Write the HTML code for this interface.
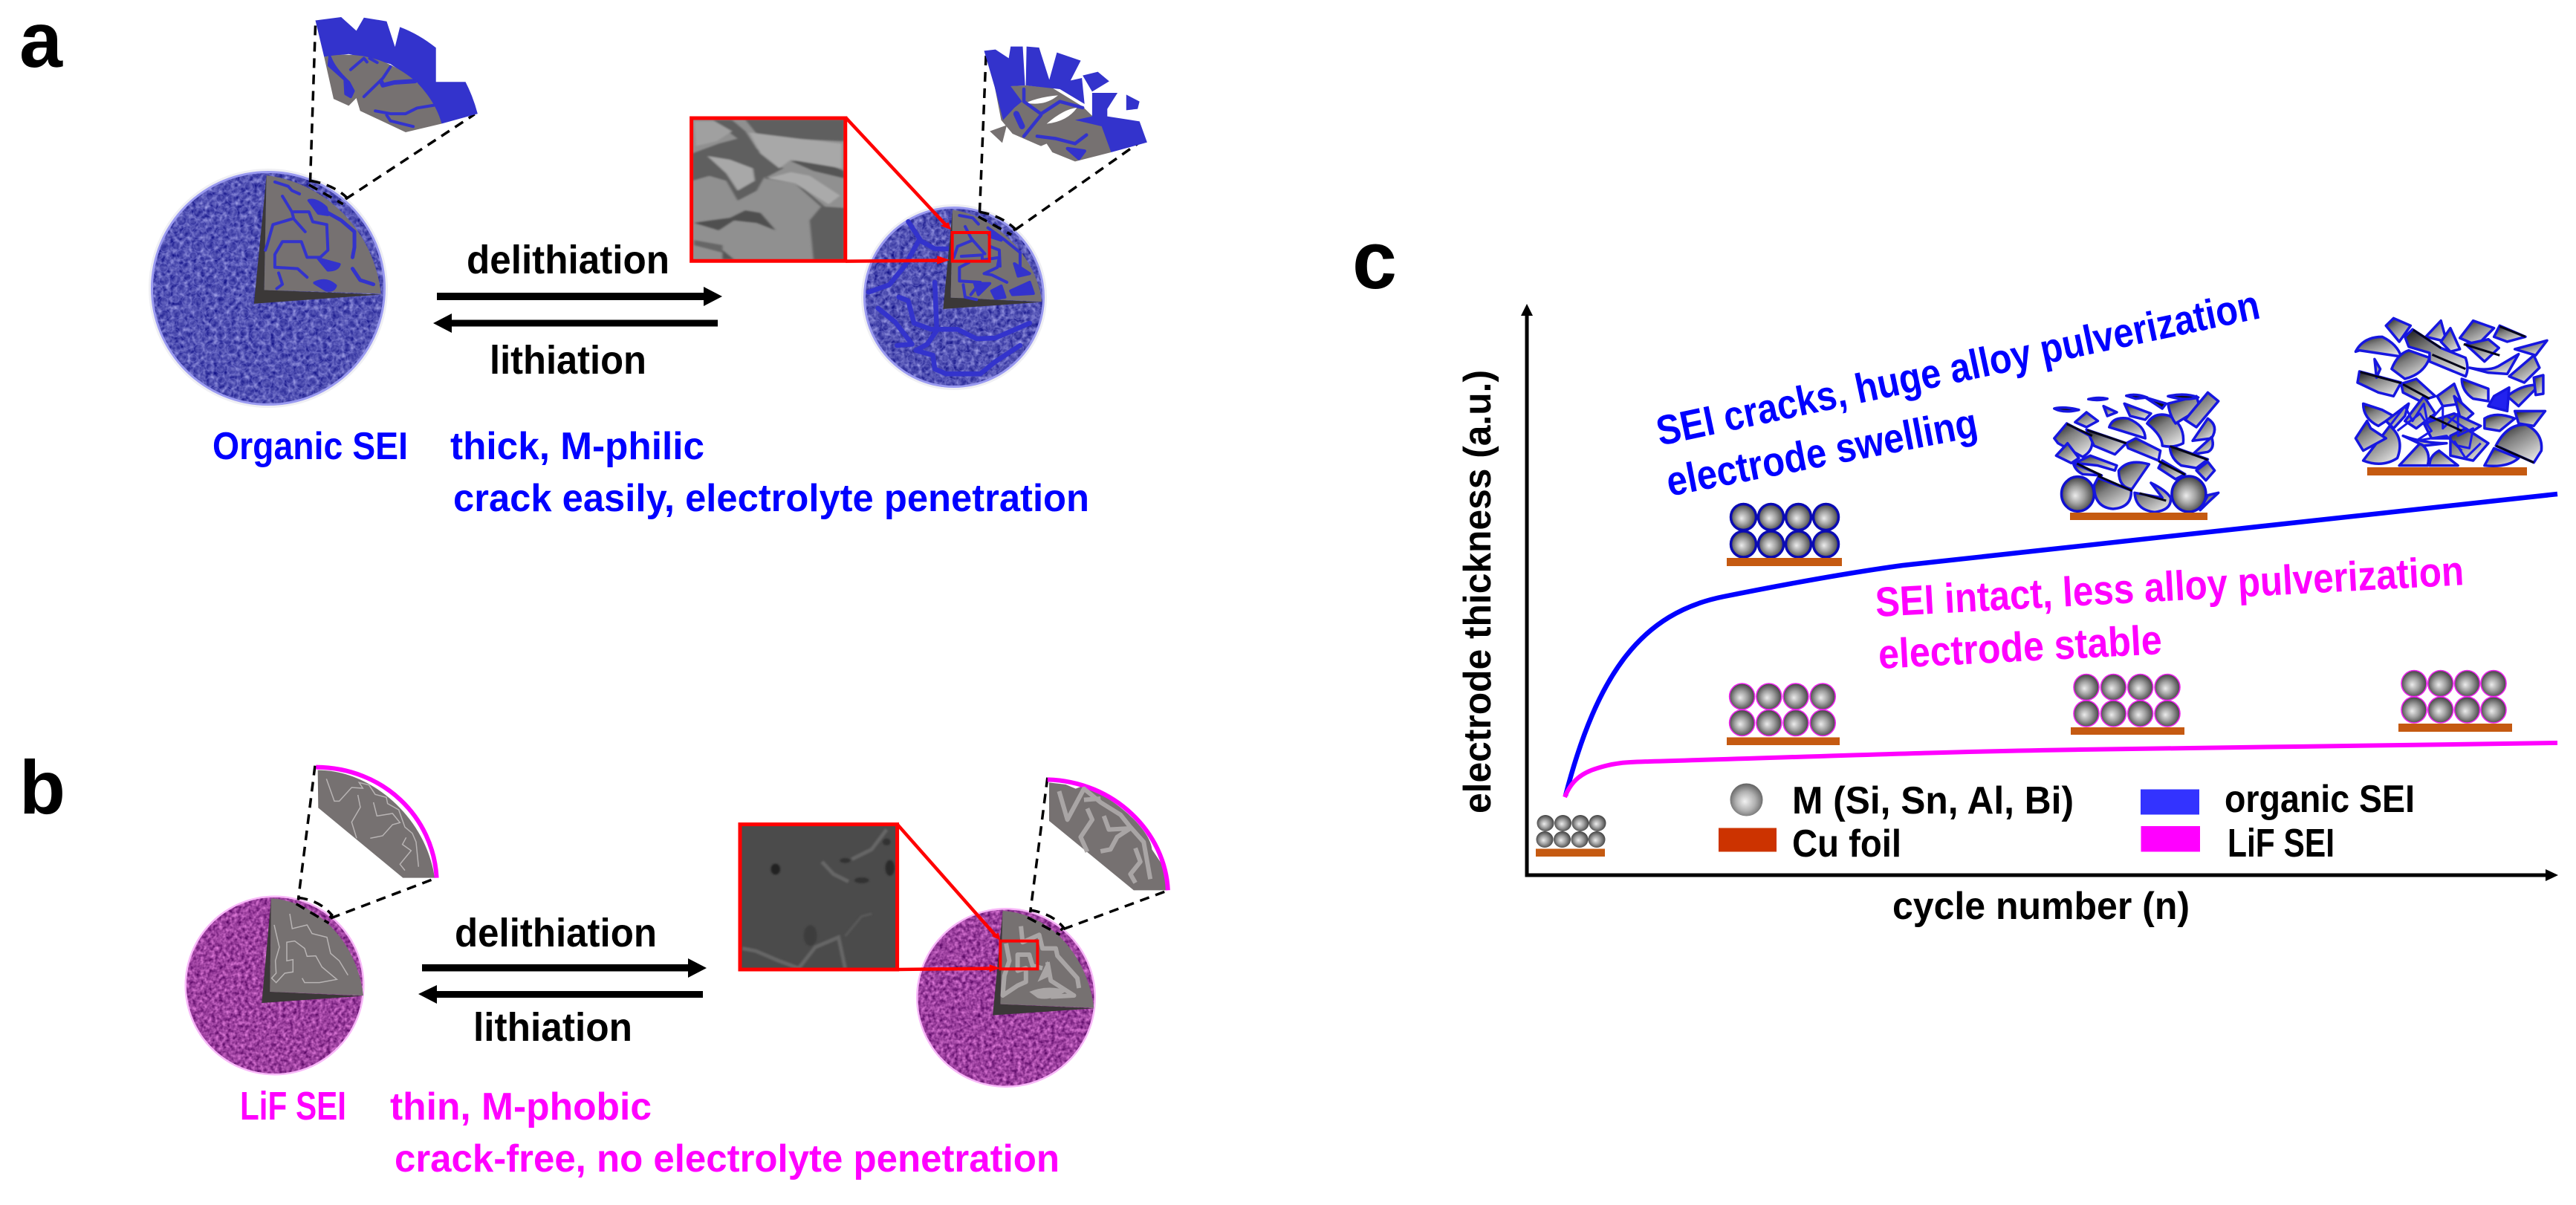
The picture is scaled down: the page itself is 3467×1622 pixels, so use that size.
<!DOCTYPE html>
<html lang="en">
<head>
<meta charset="utf-8">
<title>SEI diagram</title>
<style>
html,body{margin:0;padding:0;background:#fff}
svg{display:block}
text{font-family:"Liberation Sans",sans-serif;font-weight:700}
.ns *{vector-effect:non-scaling-stroke}
.k{fill:#000}.b{fill:#0000ff}.m{fill:#ff00ff}
.crk{fill:none;stroke:#3333cc;stroke-linejoin:round;stroke-linecap:round}
.fr path{fill:url(#frag);stroke:#1616e0;stroke-width:3.5;stroke-linejoin:round}
.fr ellipse{fill:url(#sph);stroke:#1010d0;stroke-width:3.5}
.fr path.sh{fill:none;stroke:#05051a;stroke-width:3}
.fr path.bl{fill:none;stroke:#1a1ae8;stroke-width:3}
.dash{fill:none;stroke:#000;stroke-width:3.5;stroke-dasharray:13 9}
</style>
</head>
<body>
<svg xmlns="http://www.w3.org/2000/svg" width="3467" height="1622" viewBox="0 0 3467 1622">
<defs>
<filter id="tb" x="0" y="0" width="1" height="1" color-interpolation-filters="sRGB">
<feTurbulence type="fractalNoise" baseFrequency="0.17" numOctaves="2" seed="4"/>
<feColorMatrix type="matrix" values=".75 0 0 0 -.04  .75 0 0 0 -.04  .5 0 0 0 .46  0 0 0 0 1"/>
<feComposite in2="SourceAlpha" operator="in"/>
</filter>
<filter id="tp" x="0" y="0" width="1" height="1" color-interpolation-filters="sRGB">
<feTurbulence type="fractalNoise" baseFrequency="0.2" numOctaves="2" seed="9"/>
<feColorMatrix type="matrix" values=".75 0 0 0 .24  .65 0 0 0 -.07  .65 0 0 0 .3  0 0 0 0 1"/>
<feComposite in2="SourceAlpha" operator="in"/>
</filter>
<filter id="blur"><feGaussianBlur stdDeviation="3"/></filter>
<pattern id="cells" width="46" height="46" patternUnits="userSpaceOnUse">
<g fill="#34349c" fill-opacity=".35" stroke="#8282e0" stroke-opacity=".35" stroke-width="1">
<circle cx="7" cy="8" r="6"/><circle cx="22" cy="5" r="5"/><circle cx="37" cy="10" r="6.5"/>
<circle cx="14" cy="21" r="6.5"/><circle cx="30" cy="22" r="5"/><circle cx="42" cy="27" r="4"/>
<circle cx="6" cy="34" r="5"/><circle cx="21" cy="37" r="6"/><circle cx="36" cy="38" r="6"/>
</g>
</pattern>
<radialGradient id="sph" cx=".5" cy=".52" r=".6" fx=".42" fy=".55">
<stop offset="0" stop-color="#ececec"/><stop offset=".42" stop-color="#a0a0a0"/><stop offset=".85" stop-color="#454545"/><stop offset="1" stop-color="#333"/>
</radialGradient>
<radialGradient id="sphL" cx=".5" cy=".55" r=".6" fx=".45" fy=".55">
<stop offset="0" stop-color="#f2f2f2"/><stop offset=".5" stop-color="#b0b0b0"/><stop offset="1" stop-color="#505050"/>
</radialGradient>
<linearGradient id="frag" x1="0" y1="0" x2=".7" y2="1">
<stop offset="0" stop-color="#141414"/><stop offset=".42" stop-color="#7e7e7e"/><stop offset="1" stop-color="#e0e0e0"/>
</linearGradient>
<ellipse id="s" rx="17" ry="17.5" fill="url(#sph)"/>
<ellipse id="t" rx="11.5" ry="11" fill="url(#sph)"/>
<clipPath id="semA"><rect x="160" y="393" width="402" height="566"/></clipPath>
<clipPath id="semB"><rect x="103" y="269" width="474" height="586"/></clipPath>
</defs>
<rect width="3467" height="1622" fill="#fff"/>

<!-- panel letters -->
<text class="k" x="26" y="90" font-size="106" textLength="58" lengthAdjust="spacingAndGlyphs">a</text>
<text class="k" x="26" y="1095" font-size="102" textLength="62" lengthAdjust="spacingAndGlyphs">b</text>
<text class="k" x="1820" y="388" font-size="110" textLength="60" lengthAdjust="spacingAndGlyphs">c</text>

<!-- panel a circle 1 -->
<circle cx="361" cy="388" r="161" fill="#efeff3"/>
<circle cx="361" cy="388" r="158" fill="#9a9af0"/>
<circle cx="361" cy="388" r="155" fill="#5050b8" filter="url(#tb)"/>
<circle cx="361" cy="388" r="155" fill="url(#cells)"/>

<g class="ns" transform="scale(.5102,.3827)">
<path d="M703 617 L670 1068 L1005 1036 L697 1020Z" fill="#3b3838"/>
<path d="M703 617 C850 640 985 800 1005 1033 L697 1020Z" fill="#767171"/>
<g class="crk" stroke-width="4">
<path d="M725 640 L760 655 L770 670 L790 682"/>
<path d="M745 690 L770 745 L775 770 L805 815"/>
<path d="M775 745 L815 745 L825 780 L862 790 L865 880 L845 905 L810 905 L795 850 L745 850 L725 895 L725 940 L785 945 L810 975"/>
<path d="M770 770 L720 790 L705 860 L700 880"/>
<path d="M860 745 L900 775 L935 815 L935 870 L930 905" stroke-width="5"/>
<path d="M930 945 L950 985 L985 1000" stroke-width="5"/>
<path d="M735 960 L745 1000 L730 1015"/>
<path d="M815 705 Q835 700 860 730 L865 755 L840 750Z" fill="#3333cc"/>
<path d="M840 910 L895 930 Q890 950 865 950Z" fill="#3333cc"/>
<path d="M830 995 Q860 975 885 1005 Q880 1025 860 1020Z" fill="#3333cc"/>
</g>
<path class="dash" d="M832 90 L818 650 M820 636 Q880 650 915 695 L905 706 M815 650 L905 718 M912 700 L1252 402"/>
<!-- inset a1 -->
<path d="M832 72 L900 60 L940 108 L960 62 L1020 75 L1042 165 L1055 95 Q1105 120 1150 168 L1150 288 L1228 288 Q1248 340 1260 400 L1165 435 L1100 290 L1030 225 L920 190 L855 200Z" fill="#3333cc"/>
<path d="M855 200 Q990 165 1100 290 Q1150 360 1165 435 L1070 465 L950 390 L940 345 L920 372 L880 348Z" fill="#767171"/>
<g class="crk" stroke-width="4">
<path d="M870 200 Q880 240 920 290 L932 320 L925 340 L912 330 L910 280 L868 230Z" fill="#3333cc"/>
<path d="M925 245 L960 205 L968 218 M975 205 L995 220"/>
<path d="M1030 235 L1010 275 L960 340"/>
<path d="M1005 285 L1010 300 L1040 290 L1095 285" stroke-width="6"/>
<path d="M990 390 L1030 400 L1070 400 L1100 380 L1145 370"/>
<path d="M1020 405 L1030 425 L1090 445"/>
</g>
</g>

<!-- arrows a -->
<path d="M588 394H947V386L972 399L947 412V404H588Z" fill="#000"/>
<path d="M583 435L608 422V430.5H966V439.5H608V448Z" fill="#000"/>
<text class="k" x="628" y="368" font-size="54" textLength="273" lengthAdjust="spacingAndGlyphs">delithiation</text>
<text class="k" x="659" y="503" font-size="54" textLength="211" lengthAdjust="spacingAndGlyphs">lithiation</text>
<text class="b" x="286" y="618" font-size="52" textLength="263" lengthAdjust="spacingAndGlyphs">Organic SEI</text>
<text class="b" x="606" y="618" font-size="52" textLength="342" lengthAdjust="spacingAndGlyphs">thick, M-philic</text>
<text class="b" x="610" y="688" font-size="52" textLength="856" lengthAdjust="spacingAndGlyphs">crack easily, electrolyte penetration</text>

<!-- panel a circle 2 -->
<circle cx="1284" cy="400" r="125" fill="#efeff3"/>
<circle cx="1284" cy="400" r="122" fill="#9a9af0"/>
<circle cx="1284" cy="400" r="119" fill="#5050b8" filter="url(#tb)"/>
<circle cx="1284" cy="400" r="119" fill="url(#cells)"/>

<g class="ns" transform="translate(850,30) scale(.5102,.3333)">
<g class="crk" stroke-width="6.5">
<path d="M730 805 L760 875 L720 985 L680 1060 L625 1090"/>
<path d="M760 880 L800 915 L835 915"/>
<path d="M800 1050 L805 1240"/>
<path d="M705 1110 L730 1125 L745 1215 L790 1240 L860 1240 L910 1278 L960 1275 L1050 1215"/>
<path d="M650 1155 L695 1210 L740 1300 L700 1305"/>
<path d="M805 1245 L780 1300 L750 1325 L795 1345 L800 1400 L830 1420 L920 1420 L960 1370 L1025 1305"/>
</g>
<path d="M847 758 L822 1158 L1082 1130 L842 1112Z" fill="#3b3838"/>
<path d="M847 758 C960 780 1070 950 1082 1128 L842 1112Z" fill="#767171"/>
<g class="crk" stroke-width="4">
<path d="M865 780 L900 790 L915 815"/>
<path d="M880 825 L895 870 L900 880 L932 935"/>
<path d="M900 880 L860 905 L850 950"/>
<path d="M870 945 L925 940 L925 960 L970 950 L965 990 L930 1015 L950 1020 L990 1050"/>
<path d="M940 830 L985 880 L1025 930 L1025 985"/>
<path d="M945 905 L970 920 L972 985"/>
<path d="M890 970 L865 990 L865 1045 L920 1050 L895 1100"/>
<path d="M875 1060 L880 1110 L910 1120"/>
<path d="M940 850 Q960 850 975 880 L945 865Z" fill="#3333cc"/>
<path d="M1010 975 L1050 1015 L1020 1025Z" fill="#3333cc"/>
<path d="M905 1055 L945 1055 L915 1100Z" fill="#3333cc"/>
<path d="M950 1085 L975 1065 L985 1110 L960 1115Z" fill="#3333cc"/>
<path d="M1000 1085 L1050 1050 L1060 1095 L1005 1100Z" fill="#3333cc"/>
</g>
<!-- small red box and callout -->
<path d="M565 385 L830 820" fill="none" stroke="#ff0000" stroke-width="4.5"/>
<path d="M843 838 L815 822 L836 808Z" fill="#ff0000"/>
<path d="M565 965 L815 962" fill="none" stroke="#ff0000" stroke-width="4.5"/>
<path d="M840 960 L806 943 L806 977Z" fill="#ff0000"/>
<rect x="846" y="849" width="98" height="116" fill="none" stroke="#ff0000" stroke-width="4"/>
<!-- SEM a -->
<rect x="158" y="387" width="406" height="577" fill="#909090"/>
<g clip-path="url(#semA)">
<g filter="url(#blur)">
<path d="M300 393 H562 V480 L420 470 L330 450Z" fill="#5e5e5e"/>
<path d="M215 395 L265 395 L300 440 L330 510 L400 590 L350 630 L430 650 L500 745 L470 800 L480 960 L562 960 L562 750 L510 745 L430 640 L350 625 L330 680 L280 720 L250 640 L205 620 L160 640 L160 530 L230 490 L280 470Z" fill="#5e5e5e"/>
<path d="M420 560 L490 555 L560 600 L562 630 L480 600Z" fill="#555"/>
<path d="M300 760 L340 770 L380 840 L330 810 L270 800 L230 840 L165 810 L210 800 L260 790Z" fill="#505050"/>
<path d="M165 880 L240 900 L240 930 L165 900Z" fill="#666"/>
<path d="M240 920 L270 958 L240 958Z" fill="#555"/>
<path d="M310 445 L440 470 L555 490 L555 590 L420 555 L390 590 L340 530Z" fill="#a8a8a8"/>
<path d="M200 540 L260 555 L320 590 L325 640 L280 680 L250 610Z" fill="#a8a8a8"/>
<path d="M165 400 L220 400 L265 440 L225 480 L170 500Z" fill="#a0a0a0"/>
<path d="M420 605 L470 620 L550 700 L520 735 L430 650 L360 630Z" fill="#aaa"/>
</g>
</g>
<rect x="158" y="387" width="406" height="577" fill="none" stroke="#ff0000" stroke-width="5"/>
<!-- dashes a2 -->
<path class="dash" d="M935 135 L918 775 M918 766 Q975 780 1012 835 L1005 845 M915 785 L1002 858 M1012 838 L1340 485"/>
<!-- inset a2 -->
<path d="M958 260 L1040 255 L1110 265 L1190 340 L1250 430 L1265 525 L1170 562 L1110 525 L1095 490 L1080 500 L1005 450 L975 395Z" fill="#767171"/>
<path d="M930 115 L960 110 L995 145 L1000 98 L1032 98 L1038 255 L1000 258 L1030 320 L1010 345 L980 395 L958 262Z" fill="#3333cc"/>
<path d="M1042 98 L1075 102 L1102 232 L1122 122 L1185 155 L1158 235 L1188 225 L1195 330 L1130 270 L1040 255Z" fill="#3333cc"/>
<path d="M1190 215 L1230 200 L1260 238 L1215 280Z" fill="#3333cc"/>
<path d="M1215 285 L1282 285 L1255 350 L1255 380 L1340 400 L1360 485 L1265 525 L1240 420 L1170 395 L1215 380Z" fill="#3333cc"/>
<path d="M1305 292 L1340 320 L1335 350 L1305 355Z" fill="#3333cc"/>
<path d="M945 440 L990 415 L978 487Z" fill="#767171"/>
<path d="M1095 410 Q1140 350 1175 345 Q1150 400 1095 410Z M1040 325 Q1090 340 1125 295 Q1080 300 1040 325Z" fill="#fff"/>
<g class="crk" stroke-width="4.5">
<path d="M1080 375 L1035 460"/>
<path d="M1070 460 L1120 470 L1170 490 L1200 455"/>
<path d="M1035 270 L1035 320 L1080 370 L1130 320 L1190 345"/>
<path d="M1015 370 L1030 420"  stroke-width="8"/>
<path d="M1150 510 L1180 550 L1195 520Z" fill="#3333cc"/>
</g>
</g>

<!-- panel b circle 1 -->
<circle cx="369.5" cy="1326.5" r="121" fill="#f8b8f8"/>
<circle cx="369.5" cy="1326.5" r="118.5" fill="#9b3fa0" filter="url(#tp)"/>
<g class="ns" transform="translate(200,1000) scale(.3333)">
<path d="M495 628 L457 1050 L867 1022 L490 1005Z" fill="#3b3838"/>
<path d="M495 628 C680 640 840 800 867 1020 L490 1005Z" fill="#767171"/>
<g fill="none" stroke="#b8b4b4" stroke-width="1.5">
<path d="M570 690 L580 750 L640 735 L660 770 L720 785 L735 850 L770 880 L805 938"/>
<path d="M507 735 L528 825 L512 880 L515 930 L497 950 L515 968 L550 930 L583 925 L583 875 L558 880 L558 805 L590 800 L630 830 L640 862 L675 860 L700 905 L760 955 L690 968 L630 968 L620 950"/>
</g>
<path class="dash" d="M672 92 L604 635 M604 625 Q690 635 740 695 L730 708 M596 650 L728 728 M735 708 L1145 552"/>
<path d="M683 110 C900 110 1120 300 1155 545 L1027 545 L685 262Z" fill="#767171"/>
<path d="M676 98 C950 100 1150 300 1163 545" fill="none" stroke="#ff00ff" stroke-width="6"/>
<g fill="none" stroke="#b8b4b4" stroke-width="1.5">
<path d="M718 145 L750 235 L770 235 L820 180 L865 183 L850 160 L890 170 L915 208 L960 220 L965 245 L1010 270 L1035 340 L1065 365 L1080 400 L1090 500"/>
<path d="M845 210 L855 260 L820 320 L840 385"/>
<path d="M908 240 L922 295 L985 285 L1015 322 L985 330 L945 375 L895 385"/>
<path d="M1040 382 L1025 410 L1060 435 L1015 490 L1035 515"/>
</g>
</g>

<!-- arrows b -->
<path d="M568 1298H926V1290L951 1303L926 1316V1307.5H568Z" fill="#000"/>
<path d="M563 1338L588 1326V1334H946V1343H588V1351Z" fill="#000"/>
<text class="k" x="612" y="1274" font-size="54" textLength="272" lengthAdjust="spacingAndGlyphs">delithiation</text>
<text class="k" x="637" y="1401" font-size="54" textLength="214" lengthAdjust="spacingAndGlyphs">lithiation</text>
<text class="m" x="323" y="1507" font-size="54" textLength="143" lengthAdjust="spacingAndGlyphs">LiF SEI</text>
<text class="m" x="525" y="1507" font-size="52" textLength="352" lengthAdjust="spacingAndGlyphs">thin, M-phobic</text>
<text class="m" x="531" y="1577" font-size="52" textLength="895" lengthAdjust="spacingAndGlyphs">crack-free, no electrolyte penetration</text>

<!-- panel b circle 2 -->
<circle cx="1354" cy="1343" r="121" fill="#f8b8f8"/>
<circle cx="1354" cy="1343" r="118.5" fill="#9b3fa0" filter="url(#tp)"/>
<g class="ns" transform="translate(950,1020) scale(.4464,.3333)">
<path d="M895 618 L865 1040 L1172 1012 L888 995Z" fill="#3b3838"/>
<path d="M895 618 C1040 630 1150 800 1170 1010 L888 995Z" fill="#767171"/>
<g fill="none" stroke="#a9a5a5" stroke-width="6" stroke-linejoin="round">
<path d="M950 680 L955 745 L1005 715 L1015 770 L1055 770 L1060 800 L1120 890 L1125 930"/>
<path d="M905 750 L915 820 L900 880 L895 960 L940 920 L965 905 L965 850 L940 860 L940 795 L975 795 L985 840 L1015 850"/>
<path d="M1030 825 L1040 900 L1110 960 L1040 965"/>
</g>
<path d="M1030 820 L1040 880 L1000 905Z M975 945 Q1030 915 1090 940 Q1040 985 1000 970Z" fill="#a9a5a5"/>
<!-- SEM b -->
<path d="M578 270 L878 725" fill="none" stroke="#ff0000" stroke-width="4.5"/>
<path d="M888 737 L862 720 L882 707Z" fill="#ff0000"/>
<path d="M578 855 L860 851" fill="none" stroke="#ff0000" stroke-width="4.5"/>
<path d="M888 850 L855 835 L855 865Z" fill="#ff0000"/>
<rect x="888" y="740" width="112" height="113" fill="none" stroke="#ff0000" stroke-width="4"/>
<rect x="103" y="269" width="474" height="586" fill="#4b4b4b"/>
<g clip-path="url(#semB)"><g filter="url(#blur)">
<ellipse cx="210" cy="450" rx="14" ry="22" fill="#222"/>
<ellipse cx="555" cy="445" rx="14" ry="32" fill="#2c2c2c"/>
<ellipse cx="470" cy="495" rx="22" ry="12" fill="#333"/>
<ellipse cx="420" cy="415" rx="16" ry="10" fill="#333"/>
<ellipse cx="545" cy="340" rx="12" ry="14" fill="#333"/>
<ellipse cx="315" cy="718" rx="20" ry="42" fill="#3c3c3c"/>
<path d="M110 770 L150 780 L220 820 L280 850 L330 765 L400 725 L420 850 M350 420 L385 470 L430 500 M545 290 L500 370 L440 410" fill="none" stroke="#666" stroke-width="5"/>
<path d="M420 720 L470 640 L500 630" fill="none" stroke="#5a5a5a" stroke-width="3"/>
</g></g>
<rect x="103" y="269" width="474" height="586" fill="none" stroke="#ff0000" stroke-width="5"/>
<path class="dash" d="M1030 80 L978 625 M978 615 Q1045 630 1078 685 L1068 700 M970 645 L1068 715 M1078 692 L1385 540"/>
<!-- inset b2 -->
<path d="M1035 100 L1085 108 L1115 125 L1140 112 C1240 170 1340 290 1345 370 L1375 430 L1390 535 L1290 535 L1035 255Z" fill="#767171"/>
<path d="M1030 88 C1230 95 1385 300 1393 535" fill="none" stroke="#ff00ff" stroke-width="6"/>
<g fill="none" stroke="#a9a5a5" stroke-width="6" stroke-linejoin="round">
<path d="M1065 135 L1090 250 L1140 125 L1190 180 L1250 230 L1280 280 L1320 340 L1340 490"/>
<path d="M1140 170 L1190 165 M1150 205 L1165 250 L1130 320 L1150 380"/>
<path d="M1200 235 L1215 290 L1280 285 L1240 320 L1220 370 L1190 378"/>
<path d="M1295 365 L1310 420 L1280 470 L1295 505"/>
</g>
</g>

<!-- panel c axes -->
<path d="M2055 1176.5V422" stroke="#000" stroke-width="5" fill="none"/>
<path d="M2055 409L2047 425H2063Z" fill="#000"/>
<path d="M2052.5 1178H3428" stroke="#000" stroke-width="5" fill="none"/>
<path d="M3443 1178L3426 1170V1186Z" fill="#000"/>

<text class="k" transform="translate(2006,1095) rotate(-90)" font-size="52" textLength="597" lengthAdjust="spacingAndGlyphs">electrode thickness (a.u.)</text>
<text class="k" x="2547" y="1237" font-size="52" textLength="400" lengthAdjust="spacingAndGlyphs">cycle number (n)</text>

<!-- curves -->
<path d="M2107 1071 C2150 905 2210 825 2320 803 C2380 791 2480 772 2561 761 C2680 748 3000 712 3442 665" fill="none" stroke="#0000ff" stroke-width="6.5"/>
<path d="M2106 1073 C2115 1050 2130 1040 2150 1034 C2175 1026 2190 1026 2220 1025 C2400 1020 2600 1012 2800 1009 C3000 1006 3250 1003 3442 1000" fill="none" stroke="#ff00ff" stroke-width="6"/>

<!-- curve labels -->
<text class="b" transform="translate(2234,600) rotate(-12)" font-size="56" textLength="828" lengthAdjust="spacingAndGlyphs">SEI cracks, huge alloy pulverization</text>
<text class="b" transform="translate(2247,668) rotate(-11)" font-size="56" textLength="425" lengthAdjust="spacingAndGlyphs">electrode swelling</text>
<text class="m" transform="translate(2525,830) rotate(-3.1)" font-size="56" textLength="793" lengthAdjust="spacingAndGlyphs">SEI intact, less alloy pulverization</text>
<text class="m" transform="translate(2529,900) rotate(-3)" font-size="56" textLength="382" lengthAdjust="spacingAndGlyphs">electrode stable</text>

<!-- initial stack -->
<g>
<use href="#t" x="2080" y="1108"/><use href="#t" x="2103.5" y="1108"/><use href="#t" x="2127" y="1108"/><use href="#t" x="2150" y="1108"/>
<use href="#t" x="2079" y="1130"/><use href="#t" x="2102.5" y="1130"/><use href="#t" x="2126" y="1130"/><use href="#t" x="2149" y="1130"/>
</g>
<rect x="2067" y="1142.5" width="93" height="10.5" fill="#c55a11"/>

<!-- blue stack -->
<g stroke="#0a0ab4" stroke-width="3.5">
<use href="#s" x="2346.5" y="696"/><use href="#s" x="2383.5" y="696"/><use href="#s" x="2420.5" y="696"/><use href="#s" x="2457.5" y="696"/>
<use href="#s" x="2346.5" y="732.5"/><use href="#s" x="2383.5" y="732.5"/><use href="#s" x="2420.5" y="732.5"/><use href="#s" x="2457.5" y="732.5"/>
</g>
<rect x="2324" y="751" width="155" height="11" fill="#c55a11"/>

<!-- pink stacks -->
<g stroke="#ee22ee" stroke-width="1.6">
<use href="#s" x="2344.6" y="937.5"/><use href="#s" x="2380.8" y="937.5"/><use href="#s" x="2417" y="937.5"/><use href="#s" x="2453.2" y="937.5"/>
<use href="#s" x="2344.6" y="973"/><use href="#s" x="2380.8" y="973"/><use href="#s" x="2417" y="973"/><use href="#s" x="2453.2" y="973"/>
<use href="#s" x="2808" y="925"/><use href="#s" x="2844.4" y="925"/><use href="#s" x="2880.6" y="925"/><use href="#s" x="2917" y="925"/>
<use href="#s" x="2808" y="960.5"/><use href="#s" x="2844.4" y="960.5"/><use href="#s" x="2880.6" y="960.5"/><use href="#s" x="2917" y="960.5"/>
<use href="#s" x="3249" y="920"/><use href="#s" x="3284.7" y="920"/><use href="#s" x="3320.5" y="920"/><use href="#s" x="3356" y="920"/>
<use href="#s" x="3249" y="955.5"/><use href="#s" x="3284.7" y="955.5"/><use href="#s" x="3320.5" y="955.5"/><use href="#s" x="3356" y="955.5"/>
</g>
<rect x="2324" y="992.5" width="152" height="10.5" fill="#c55a11"/>
<rect x="2787" y="979" width="153" height="10" fill="#c55a11"/>
<rect x="3228" y="974" width="153" height="11" fill="#c55a11"/>

<!-- pulverized stacks -->
<g class="ns fr" transform="translate(2650,400) scale(.5102,.3333)">
<!-- stack A -->
<ellipse cx="287" cy="795" rx="43" ry="70"/>
<ellipse cx="580" cy="795" rx="45" ry="72"/>
<path d="M330 760 Q330 850 380 855 Q430 850 428 780 L340 730Z"/>
<path d="M437 790 Q440 860 490 868 Q535 860 532 810 Q520 780 480 750 L510 810Z"/>
<path d="M225 570 L258 510 L325 565 Q330 620 300 645 L235 590Z"/>
<path d="M310 535 L415 590 L385 635 L330 600Z"/>
<path d="M415 590 L440 570 L505 620 L500 660 L420 610Z"/>
<path d="M230 640 L260 590 L290 650 L270 670Z"/>
<path d="M280 670 L320 640 L390 680 L385 700 L340 680Z"/>
<path d="M275 670 L350 720 L300 715 Q280 700 275 670Z"/>
<path d="M395 700 Q420 650 475 675 L430 775 Q395 770 395 700Z"/>
<path d="M500 690 L510 660 L570 715 L545 735Z"/>
<path d="M530 600 L630 655 L600 690 L560 680 Q530 650 530 600Z"/>
<path d="M600 700 L630 665 L648 700 L625 740Z"/>
<path d="M370 525 Q380 480 420 490 Q465 520 465 570Z"/>
<path d="M470 510 Q490 460 530 480 Q570 520 565 590 Q540 610 510 600 Q510 560 470 510Z"/>
<path d="M525 430 L600 400 L610 450 L545 510 Q530 480 525 430Z"/>
<path d="M570 495 L630 385 L658 420 L600 525Z"/>
<path d="M590 580 L630 490 Q660 520 640 570Z"/>
<path d="M590 635 L640 565 Q650 610 630 625Z"/>
<path d="M410 430 L480 470 L465 495 L425 480Z"/>
<path d="M280 505 L310 465 L340 500 L310 525Z"/>
<path d="M225 450 Q250 440 290 455 Q250 470 225 450Z" style="fill:#111"/>
<path d="M315 412 Q340 402 365 410 Q340 420 315 412Z" style="fill:#111"/>
<path d="M415 398 Q440 388 470 405 L440 410Z" style="fill:#111"/>
<path d="M465 405 L520 430 L510 450Z" style="fill:#111"/>
<path d="M525 400 Q570 385 605 405 Q570 420 525 400Z" style="fill:#111"/>
<path d="M355 440 L390 465 L365 480Z"/>
<path d="M610 860 L630 800 L658 790 L630 830Z"/>
<path class="sh" d="M258 512 L325 560 M312 537 L415 590 M530 602 L630 657 M340 722 L430 782 M450 792 L520 822 M500 662 L570 717 M285 672 L350 720"/>
<!-- stack B -->
<path d="M1390 600 Q1420 510 1470 515 Q1515 550 1510 620 L1490 668Z"/>
<path d="M1040 660 L1110 520 Q1150 570 1130 650 Q1090 690 1040 660Z"/>
<path d="M1135 680 L1190 590 Q1220 620 1210 680Z"/>
<path d="M1020 570 L1050 500 L1060 530 L1100 570 L1040 620Z"/>
<path d="M1215 680 Q1215 640 1240 620 L1290 680Z"/>
<path d="M1360 680 L1385 610 L1450 650 Q1420 690 1360 680Z"/>
<path d="M1040 430 L1090 455 L1120 480 L1080 520 Q1040 490 1040 430Z"/>
<path d="M1030 300 L1140 345 L1120 400 L1080 385 L1025 345Z"/>
<path d="M1140 350 L1180 330 L1230 400 L1190 420 L1145 385Z"/>
<path d="M1020 220 Q1040 160 1090 160 Q1130 190 1140 240 L1030 215Z"/>
<path d="M1115 290 Q1130 230 1160 215 L1215 245 Q1200 310 1150 330Z"/>
<path d="M1150 160 L1170 130 L1245 205 L1310 245 Q1320 290 1310 320 L1215 260 L1215 225 L1160 200Z"/>
<path d="M1100 115 L1120 85 L1165 115 L1135 180Z"/>
<path d="M1205 160 L1245 95 L1260 180Z"/>
<path d="M1245 180 L1270 125 L1295 210 L1270 220Z"/>
<path d="M1295 165 L1330 95 L1385 125 L1340 195Z"/>
<path d="M1385 160 L1400 115 L1468 160 L1420 180Z"/>
<path d="M1310 190 L1370 170 L1398 205 L1360 260Z"/>
<path d="M1320 285 Q1370 300 1395 280 L1450 230 L1420 310 L1370 305Z"/>
<path d="M1425 320 L1490 235 L1505 285 L1465 345Z"/>
<path d="M1440 210 L1525 175 L1495 235Z"/>
<path d="M1420 400 Q1460 350 1505 355 L1450 440Z"/>
<path d="M1490 325 L1515 315 L1515 390 L1495 395Z"/>
<path d="M1300 330 L1370 370 L1370 420 L1330 410 Q1300 380 1300 330Z"/>
<path d="M1440 460 L1520 460 L1490 520 L1450 510Z"/>
<path d="M1360 490 Q1390 460 1440 490 L1400 540 L1360 530Z"/>
<path d="M1150 500 L1200 400 L1230 470 L1180 530Z"/>
<path d="M1235 400 L1280 350 L1300 430 L1250 440Z"/>
<path d="M1280 400 L1330 470 L1300 510Z"/>
<path d="M1200 510 L1280 470 L1350 520 L1300 570 L1220 570Z"/>
<path d="M1100 500 L1160 430 L1150 480 L1120 530Z"/>
<path d="M1270 560 L1310 530 L1370 590 L1330 660 L1270 640Z"/>
<path d="M1145 560 Q1200 590 1260 590 L1200 600Z"/>
<path d="M1385 400 L1425 365 L1420 460 L1370 440Z" style="fill:#2222ee"/>
<path d="M1070 250 L1085 290 L1075 325Z"/>
<path class="bl" d="M1110 520 L1150 440 L1170 500 L1200 430 L1210 510 L1250 440 L1250 530 L1290 470 L1290 560 L1330 530 L1320 610 L1290 600 M1130 540 L1190 470 L1220 540 L1180 580 L1260 560 L1300 620 M1280 580 L1310 650 L1350 590 M1260 480 L1320 540"/>
<path class="sh" d="M1172 132 L1245 205 M1222 232 L1310 290 M1032 302 L1140 347 M1145 352 L1215 410 M1215 480 L1300 540 M1390 600 L1490 668 M1305 190 L1400 235 M1400 118 L1468 160"/>
</g>
<g class="ns">
<rect x="2786" y="690" width="185" height="10" fill="#c55a11"/>
<rect x="3186" y="629" width="215" height="11" fill="#c55a11"/>
</g>

<!-- legend -->
<ellipse cx="2350.5" cy="1076.5" rx="22" ry="22" fill="url(#sphL)"/>
<rect x="2313" y="1114.5" width="78" height="32" fill="#cc3300"/>
<rect x="2881" y="1062.5" width="79" height="34" fill="#3333ff"/>
<rect x="2881.5" y="1112" width="79.5" height="34.5" fill="#ff00ff"/>
<text class="k" x="2412" y="1095" font-size="52" textLength="379" lengthAdjust="spacingAndGlyphs">M (Si, Sn, Al, Bi)</text>
<text class="k" x="2412" y="1153" font-size="52" textLength="147" lengthAdjust="spacingAndGlyphs">Cu foil</text>
<text class="k" x="2994" y="1093" font-size="52" textLength="256" lengthAdjust="spacingAndGlyphs">organic SEI</text>
<text class="k" x="2998" y="1153" font-size="54" textLength="144" lengthAdjust="spacingAndGlyphs">LiF SEI</text>
</svg>
</body>
</html>
